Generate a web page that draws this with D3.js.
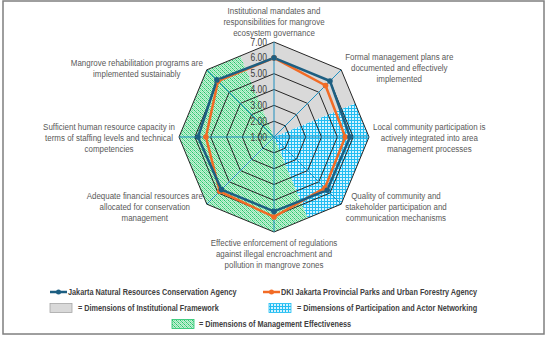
<!DOCTYPE html>
<html><head><meta charset="utf-8">
<script src="https://cdn.jsdelivr.net/npm/d3@7"></script>
<style>
html,body{margin:0;padding:0;background:#fff;}
svg{display:block;}
</style></head>
<body>
<svg id="chart" width="550" height="338"></svg>
<script>
// ---------- data ----------
const categories = [
  ["Institutional mandates and","responsibilities for mangrove","ecosystem governance"],
  ["Formal management plans are","documented and effectively","implemented"],
  ["Local community participation is","actively integrated into area","management processes"],
  ["Quality of community and","stakeholder participation and","communication mechanisms"],
  ["Effective enforcement of regulations","against illegal encroachment and","pollution in mangrove zones"],
  ["Adequate financial resources are","allocated for conservation","management"],
  ["Sufficient human resource capacity in","terms of staffing levels and technical","competencies"],
  ["Mangrove rehabilitation programs are","implemented sustainably"]
];
const seriesNames = ["Jakarta Natural Resources Conservation Agency","DKI Jakarta Provincial Parks and Urban Forestry Agency"];
const nrcaValues = [6.0, 6.0, 5.8, 5.75, 5.7, 5.7, 5.8, 6.1];
const dkiValues  = [6.0, 5.6, 5.5, 5.55, 6.05, 5.85, 5.3, 6.0];
const tickValues = [1, 2, 3, 4, 5, 6, 7];
const tickLabels = ["1.00","2.00","3.00","4.00","5.00","6.00","7.00"];
const dimensionNames = ["= Dimensions of Institutional Framework","= Dimensions of Participation and Actor Networking","= Dimensions of Management Effectiveness"];
const dimensionAxes = [[0,1],[2,3],[4,5,6,7]];

// ---------- layout ----------
const svg = d3.select("#chart");
const cx = 274, cy = 137, R = 95;
const N = categories.length;
const rScale = d3.scaleLinear().domain([1, 7]).range([0, R]);
const angle = i => i * 2 * Math.PI / N;
const pt = (i, v) => [cx + rScale(v) * Math.sin(angle(i)), cy - rScale(v) * Math.cos(angle(i))];
const font = "'Liberation Sans Narrow','Arial Narrow','Liberation Sans',Arial,sans-serif";
const NARROW = 0.82;
// place a text with horizontal condensing (narrow face emulation)
function place(t, x, y, k) {
  t.attr("x", 0).attr("y", 0).attr("transform", `translate(${x},${y}) scale(${k},1)`);
  return t;
}

// frame
svg.append("rect").attr("x", 3).attr("y", 1).attr("width", 541).attr("height", 333)
  .attr("fill", "#fff").attr("stroke", "#7f7f7f").attr("stroke-width", 1.5);

// patterns
const defs = svg.append("defs");
const pb = defs.append("pattern").attr("id", "pBlue").attr("patternUnits", "userSpaceOnUse").attr("width", 3).attr("height", 3);
pb.append("rect").attr("width", 3).attr("height", 3).attr("fill", "#d4f3ff");
pb.append("rect").attr("width", 3).attr("height", 1).attr("fill", "#22bdf2");
pb.append("rect").attr("width", 1).attr("height", 3).attr("fill", "#22bdf2");
const pg = defs.append("pattern").attr("id", "pGreen").attr("patternUnits", "userSpaceOnUse").attr("width", 4).attr("height", 4);
pg.append("rect").attr("width", 4).attr("height", 4).attr("fill", "#c4f2d3");
[[0,0,"#22c46a"],[1,1,"#4fd08a"],[2,2,"#22c46a"],[3,3,"#4fd08a"],[2,0,"#7ddca6"],[0,2,"#7ddca6"],[3,1,"#a0e6bd"],[1,3,"#a0e6bd"]].forEach(([x,y,c]) =>
  pg.append("rect").attr("x", x).attr("y", y).attr("width", 1).attr("height", 1).attr("fill", c));
const dimFills = ["#d9d9d9", "url(#pBlue)", "url(#pGreen)"];

// dimension sectors
const maxV = tickValues[tickValues.length - 1];
dimensionAxes.forEach((axes, k) => {
  const first = axes[0], last = axes[axes.length - 1];
  const prev = (first - 1 + N) % N, next = (last + 1) % N;
  const a = pt(first, maxV), b = pt(prev, maxV), c = pt(last, maxV), d = pt(next, maxV);
  const pts = [[cx, cy], [(a[0] + b[0]) / 2, (a[1] + b[1]) / 2]];
  axes.forEach(i => pts.push(pt(i, maxV)));
  pts.push([(c[0] + d[0]) / 2, (c[1] + d[1]) / 2]);
  svg.append("path").attr("d", "M" + pts.map(p => p.join(",")).join("L") + "Z").attr("fill", dimFills[k]);
});

// grid rings
const ring = d3.lineRadial().curve(d3.curveLinearClosed);
const gGrid = svg.append("g").attr("transform", `translate(${cx},${cy})`);
tickValues.slice(1).forEach(t => {
  gGrid.append("path").attr("d", ring(d3.range(N).map(i => [angle(i), rScale(t)])))
    .attr("fill", "none").attr("stroke", "#262626").attr("stroke-width", 1);
});
// spokes
d3.range(N).forEach(i => {
  const p = pt(i, maxV);
  svg.append("line").attr("x1", cx).attr("y1", cy).attr("x2", p[0]).attr("y2", p[1])
    .attr("stroke", "#1e8fbf").attr("stroke-width", 1);
});

// tick labels
tickValues.forEach((t, k) => {
  place(svg.append("text").attr("text-anchor", "end").attr("font-family", font).attr("font-size", 10)
    .attr("fill", "#404040").text(tickLabels[k]), cx - 7, cy - rScale(t) + 3.5, 0.85);
});

// series
const seriesVals = [nrcaValues, dkiValues];
const seriesColors = ["#1d5f82", "#f26b25"];
[1, 0].forEach(s => {
  const vals = seriesVals[s];
  svg.append("path").attr("transform", `translate(${cx},${cy})`)
    .attr("d", ring(vals.map((v, i) => [angle(i), rScale(v)])))
    .attr("fill", "none").attr("stroke", seriesColors[s]).attr("stroke-width", 2.5)
    .attr("stroke-linejoin", "round");
});
[1, 0].forEach(s => {
  seriesVals[s].forEach((v, i) => {
    const p = pt(i, v);
    svg.append("circle").attr("cx", p[0]).attr("cy", p[1]).attr("r", 2.8).attr("fill", seriesColors[s]);
  });
});

// category labels
const lineH = 11;
categories.forEach((lines, i) => {
  const a = angle(i), s = Math.sin(a), c = Math.cos(a);
  const v = pt(i, maxV);
  const g = svg.append("g");
  const texts = lines.map(l => g.append("text").attr("font-family", font).attr("font-size", 9.7)
    .attr("fill", "#595959").attr("text-anchor", "middle").text(l));
  const w = d3.max(texts, t => t.node().getComputedTextLength()) * NARROW;
  let xc, yFirst;
  const n = lines.length;
  if (Math.abs(s) < 0.01) {
    xc = cx;
    if (c > 0) yFirst = v[1] - 6 - (n - 1) * lineH;   // top
    else yFirst = v[1] + 13.5;                         // bottom
  } else {
    xc = s > 0 ? v[0] + 4 + w / 2 : v[0] - 4 - w / 2;
    const ymid = v[1] - 3 * c;
    yFirst = ymid - (n - 1) * lineH / 2 + 3.5;
  }
  texts.forEach((t, k) => place(t, xc, yFirst + k * lineH, NARROW));
});

// legend
const lg = svg.append("g").attr("font-family", font).attr("font-size", 8.9).attr("font-weight", "bold").attr("fill", "#404040");
const legSeriesX = [50, 263];
seriesNames.forEach((name, s) => {
  const x = legSeriesX[s], y = 292;
  lg.append("line").attr("x1", x).attr("x2", x + 17).attr("y1", y).attr("y2", y)
    .attr("stroke", seriesColors[s]).attr("stroke-width", 2.5);
  lg.append("circle").attr("cx", x + 8.5).attr("cy", y).attr("r", 2.5).attr("fill", seriesColors[s]);
  place(lg.append("text").text(name), x + 18, y + 3.2, NARROW);
});
const legDimPos = [[50, 308, 78], [269, 308, 297], [172, 324, 199]];
dimensionNames.forEach((name, k) => {
  const [bx, by, tx] = legDimPos[k];
  lg.append("rect").attr("x", bx).attr("y", by - 4.5).attr("width", 22).attr("height", 9)
    .attr("fill", dimFills[k]).attr("stroke", k === 2 ? "#22c46a" : (k === 1 ? "#22bdf2" : "#a6a6a6")).attr("stroke-width", 0.8);
  place(lg.append("text").text(name), tx, by + 3.2, NARROW);
});
</script>
</body></html>
